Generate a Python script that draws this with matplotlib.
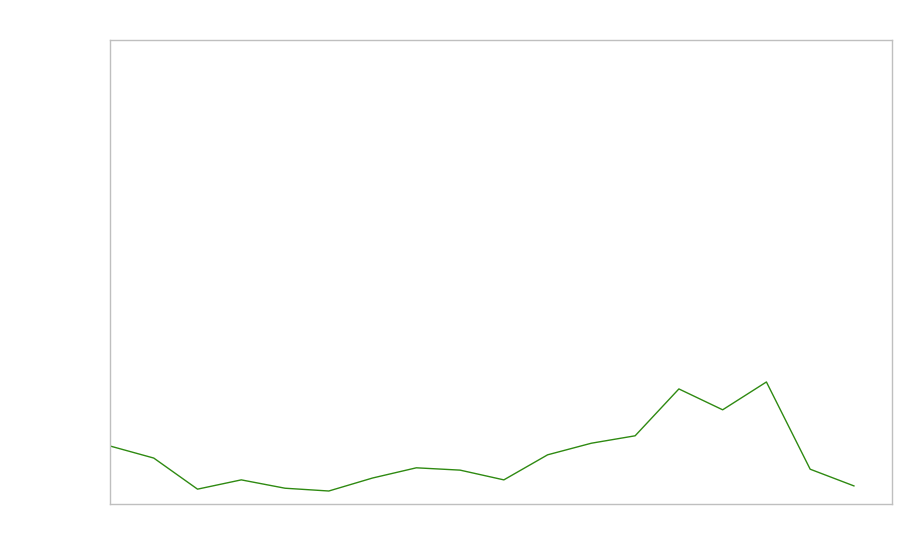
import matplotlib
matplotlib.use('Agg')
from matplotlib import pyplot as plt

# series (index along x, value 0-100)
x_idx = list(range(18))
values = [12.5, 9.9, 3.2, 5.2, 3.4, 2.8, 5.6, 7.8, 7.3, 5.2,
          10.6, 13.1, 14.7, 24.8, 20.3, 26.3, 7.5, 3.9]

fig = plt.figure(figsize=(9, 5.6), dpi=100)
ax = fig.add_axes([110 / 900, 56 / 560, 782 / 900, 464 / 560])
ax.plot(x_idx, values, color='#2f8a12', linewidth=1.0)
ax.set_xlim(0, 17.87)
ax.set_ylim(0, 100)
ax.set_xticks([])
ax.set_yticks([])
for sp in ax.spines.values():
    sp.set_color('#bfbfbf')
    sp.set_linewidth(1.0)

fig.savefig('out.png', dpi=100)
